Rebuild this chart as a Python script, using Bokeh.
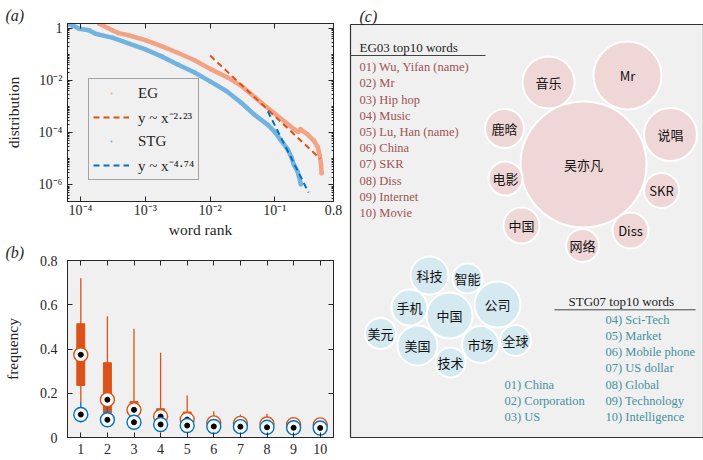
from bokeh.plotting import figure
from bokeh.layouts import row, column
from bokeh.models import (FixedTicker, LogAxis, LinearAxis, Legend, LegendItem, Range1d)
from bokeh.core.properties import value
from bokeh.embed import file_html
from bokeh.resources import INLINE

# ---------------- panel (a): rank distributions ----------------
eg_rank = [1.95e-4, 3.09e-4, 3.89e-4, 5.5e-4, 1.0e-3, 1.78e-3, 3.16e-3, 5.75e-3,
           1.0e-2, 1.86e-2, 3.02e-2, 6.17e-2, 9.77e-2, 0.148, 0.200, 0.229, 0.245,
           0.316, 0.398, 0.457, 0.490, 0.513, 0.525]
eg_dist = [1.51, 0.85, 0.66, 0.55, 0.355, 0.209, 0.117, 0.060, 0.0282, 0.0132,
           6.3e-3, 1.41e-3, 5.6e-4, 2.4e-4, 1.32e-4, 1.07e-4, 1.38e-4, 8.7e-5,
           5.0e-5, 2.8e-5, 1.38e-5, 6.3e-6, 2.8e-6]
stg_rank = [6.3e-5, 7.6e-5, 9.5e-5, 1.35e-4, 1.7e-4, 3.16e-4, 5.5e-4, 1.0e-3,
            1.78e-3, 3.16e-3, 5.75e-3, 1.0e-2, 1.78e-2, 3.02e-2, 4.79e-2, 7.76e-2,
            9.77e-2, 0.123, 0.158, 0.182, 0.195, 0.224, 0.251]
stg_dist = [1.51, 1.29, 0.98, 0.85, 0.63, 0.437, 0.269, 0.158, 0.085, 0.0417,
            0.0204, 9.3e-3, 4.0e-3, 1.41e-3, 5.0e-4, 2.0e-4, 1.12e-4, 5.2e-5,
            2.24e-5, 1.07e-5, 6.0e-6, 3.2e-6, 1.05e-6]
eg_fit_rank = [0.01, 0.50]
eg_fit_dist = [0.091, 1.0e-5]
stg_fit_rank = [0.0776, 0.33]
stg_fit_dist = [6.6e-4, 5.1e-7]

a_xticks = [1e-4, 1e-3, 1e-2, 1e-1, 0.8]
a_xlabels = ["10\u207b\u2074", "10\u207b\u00b3", "10\u207b\u00b2", "10\u207b\u00b9", "0.8"]
a_yticks = [1.0, 1e-2, 1e-4, 1e-6]
a_ylabels = ["1", "10\u207b\u00b2", "10\u207b\u2074", "10\u207b\u2076"]

# ---------------- panel (b): top-10 frequency box plots ----------------
ranks = [1, 2, 3, 4, 5, 6, 7, 8, 9, 10]
eg_lo = [0.16, 0.09, 0.07, 0.06, 0.05, 0.045, 0.04, 0.04, 0.04, 0.04]
eg_q1 = [0.235, 0.112, 0.10, 0.085, 0.06, 0.055, 0.05, 0.05, 0.048, 0.047]
eg_med = [0.374, 0.171, 0.125, 0.095, 0.081, 0.066, 0.064, 0.061, 0.058, 0.057]
eg_q3 = [0.514, 0.338, 0.163, 0.130, 0.115, 0.085, 0.08, 0.078, 0.072, 0.07]
eg_hi = [0.72, 0.548, 0.492, 0.383, 0.19, 0.119, 0.104, 0.107, 0.08, 0.075]
stg_lo = [0.068, 0.06, 0.05, 0.045, 0.04, 0.038, 0.036, 0.034, 0.033, 0.032]
stg_q1 = [0.095, 0.072, 0.063, 0.054, 0.05, 0.046, 0.045, 0.042, 0.04, 0.04]
stg_med = [0.104, 0.080, 0.069, 0.059, 0.054, 0.050, 0.049, 0.046, 0.044, 0.043]
stg_q3 = [0.115, 0.088, 0.075, 0.065, 0.06, 0.055, 0.053, 0.05, 0.048, 0.047]
stg_hi = [0.16, 0.15, 0.09, 0.08, 0.07, 0.065, 0.06, 0.058, 0.055, 0.053]
b_yticks = [0, 0.2, 0.4, 0.6, 0.8]
b_ylabels = ["0", "0.2", "0.4", "0.6", "0.8"]

# ---------------- panel (c): top-10 word bubbles ----------------
eg_title = "EG03 top10 words"
eg_words_en = ["Wu, Yifan (name)", "Mr", "Hip hop", "Music", "Lu, Han (name)",
               "China", "SKR", "Diss", "Internet", "Movie"]
eg_words_zh = ["吴亦凡", "Mr", "说唱", "音乐", "鹿晗", "中国", "SKR", "Diss", "网络", "电影"]
stg_title = "STG07 top10 words"
stg_words_en = ["China", "Corporation", "US", "Sci-Tech", "Market", "Mobile phone",
                "US dollar", "Global", "Technology", "Intelligence"]
stg_words_zh = ["中国", "公司", "美国", "科技", "市场", "手机", "美元", "全球", "技术", "智能"]
# bubble layout (panel-c coordinates) and bubble radii
eg_bx = [581, 625, 668, 546, 502, 519, 659, 628, 580, 503]
eg_by = [164, 75, 134, 82, 128, 225, 190, 230, 245, 178]
eg_br = [63, 34, 26.5, 26, 19.5, 18, 17.5, 18, 16.5, 17]
stg_bx = [447, 495, 415, 427, 478, 407, 378, 513, 448, 465]
stg_by = [315, 304, 345, 275, 344, 307, 333, 340, 362, 278]
stg_br = [23, 23, 20, 19, 18.5, 18, 15.5, 15.5, 15, 15]

DARK = "#262626"
BG = "#f0f0f0"
SERIF = "Liberation Serif"
ORANGE = "#D95319"
BLUE = "#0072BD"
EG_LIGHT = "#F2A385"
STG_LIGHT = "#72B2DF"


def style_axis(ax, ticks, labels=True):
    ax.axis_line_color = DARK
    ax.major_tick_in = 5
    ax.major_tick_out = 0
    ax.minor_tick_in = 2
    ax.minor_tick_out = 0
    ax.major_tick_line_color = DARK
    ax.minor_tick_line_color = DARK
    ax.major_label_text_font = SERIF
    ax.major_label_text_color = DARK
    ax.major_label_text_font_size = "14px"
    ax.axis_label_text_font = SERIF
    ax.axis_label_text_font_style = "normal"
    ax.axis_label_text_color = DARK
    ax.axis_label_text_font_size = "15.5px"
    if not labels:
        ax.major_label_overrides = {t: "" for t in ticks}
        ax.major_label_standoff = 0


def panel_title(p, text, offset):
    p.title.text = text
    p.title.align = "left"
    p.title.offset = offset
    p.title.standoff = 0
    p.title.text_font = SERIF
    p.title.text_font_style = "italic"
    p.title.text_font_size = "16px"
    p.title.text_color = DARK


# ---------- figure (a)
pa = figure(x_axis_type="log", y_axis_type="log",
            x_range=Range1d(6.3e-5, 0.8), y_range=Range1d(2.3e-7, 1.55),
            frame_width=266, frame_height=178,
            min_border_left=65, min_border_right=14, min_border_top=23, min_border_bottom=38,
            output_backend="svg", toolbar_location=None,
            background_fill_color=BG, border_fill_color="white")
pa.grid.visible = False
pa.outline_line_color = DARK
panel_title(pa, "(a)", -62)

yminor = [k * 10.0 ** e for e in range(-7, 1) for k in range(1, 10)]
pa.xaxis.ticker = FixedTicker(ticks=a_xticks, minor_ticks=[])
pa.yaxis.ticker = FixedTicker(ticks=a_yticks, minor_ticks=yminor)
pa.xaxis.axis_label = "word rank"
pa.yaxis.axis_label = "distribution"
for ax in pa.xaxis:
    style_axis(ax, a_xticks)
for ax in pa.yaxis:
    style_axis(ax, a_yticks)
pa.xaxis.major_label_overrides = dict(zip(a_xticks, a_xlabels))
pa.yaxis.major_label_overrides = dict(zip(a_yticks, a_ylabels))
pa.xaxis.major_label_standoff = 1
pa.xaxis.axis_label_standoff = 0
pa.yaxis.major_label_standoff = 5
pa.yaxis.axis_label_standoff = 14
ta = LogAxis(ticker=FixedTicker(ticks=a_xticks, minor_ticks=[]))
ra = LogAxis(ticker=FixedTicker(ticks=a_yticks, minor_ticks=yminor))
style_axis(ta, a_xticks, False)
style_axis(ra, a_yticks, False)
pa.add_layout(ta, "above")
pa.add_layout(ra, "right")

pa.line(eg_rank, eg_dist, line_color=EG_LIGHT, line_width=4.5, line_cap="round")
eg_dots = pa.scatter(eg_rank, eg_dist, marker="dot", size=18, color=EG_LIGHT)
pa.line(stg_rank, stg_dist, line_color=STG_LIGHT, line_width=4.5, line_cap="round")
stg_dots = pa.scatter(stg_rank, stg_dist, marker="dot", size=18, color=STG_LIGHT)
eg_fit = pa.line(eg_fit_rank, eg_fit_dist, line_color=ORANGE, line_width=2, line_dash="6 4")
stg_fit = pa.line(stg_fit_rank, stg_fit_dist, line_color=BLUE, line_width=2, line_dash="6 4")

legend = Legend(items=[
    LegendItem(label="EG", renderers=[eg_dots]),
    LegendItem(label="y ~ x\u207b\u00b2\u00b7\u00b2\u00b3", renderers=[eg_fit]),
    LegendItem(label="STG", renderers=[stg_dots]),
    LegendItem(label="y ~ x\u207b\u2074\u00b7\u2077\u2074", renderers=[stg_fit]),
], location=(21, 21))
legend.background_fill_color = BG
legend.background_fill_alpha = 1
legend.border_line_color = "#555555"
legend.border_line_width = 1
legend.label_text_font = SERIF
legend.label_text_font_size = "15px"
legend.label_text_color = DARK
legend.glyph_width = 36
legend.glyph_height = 20
legend.label_height = 20
legend.label_standoff = 9
legend.spacing = 4
legend.padding = 4
legend.margin = 0
pa.add_layout(legend)

# ---------- figure (b)
pb = figure(x_range=Range1d(0.5, 10.5), y_range=Range1d(0, 0.8),
            frame_width=266, frame_height=177,
            min_border_left=65, min_border_right=14, min_border_top=20, min_border_bottom=23,
            output_backend="svg", toolbar_location=None,
            background_fill_color=BG, border_fill_color="white")
pb.grid.visible = False
pb.outline_line_color = DARK
panel_title(pb, "(b)", -62)
pb.xaxis.ticker = FixedTicker(ticks=ranks, minor_ticks=[])
pb.yaxis.ticker = FixedTicker(ticks=b_yticks, minor_ticks=[])
pb.yaxis.axis_label = "frequency"
for ax in pb.xaxis:
    style_axis(ax, ranks)
for ax in pb.yaxis:
    style_axis(ax, b_yticks)
pb.yaxis.major_label_overrides = dict(zip(b_yticks, b_ylabels))
pb.xaxis.major_label_standoff = 6
pb.yaxis.major_label_standoff = 10
pb.yaxis.axis_label_standoff = 16
tb = LinearAxis(ticker=FixedTicker(ticks=ranks, minor_ticks=[]))
rb = LinearAxis(ticker=FixedTicker(ticks=b_yticks, minor_ticks=[]))
style_axis(tb, ranks, False)
style_axis(rb, b_yticks, False)
pb.add_layout(tb, "above")
pb.add_layout(rb, "right")

pb.segment(x0=ranks, y0=eg_lo, x1=ranks, y1=eg_hi, line_color=ORANGE, line_width=1.3)
pb.vbar(x=ranks, bottom=eg_q1, top=eg_q3, width=0.3, fill_color=ORANGE, line_color=ORANGE)
pb.segment(x0=ranks, y0=stg_lo, x1=ranks, y1=stg_hi, line_color=BLUE, line_width=1.3)
pb.vbar(x=ranks, bottom=stg_q1, top=stg_q3, width=0.3, fill_color=BLUE, line_color=BLUE)
pb.scatter(ranks, eg_med, size=14, fill_color="#f8f8f8", line_color=ORANGE, line_width=1.4)
pb.scatter(ranks, eg_med, size=5, color="black")
pb.scatter(ranks, stg_med, size=14, fill_color="#f8f8f8", line_color=BLUE, line_width=1.4)
pb.scatter(ranks, stg_med, size=5, color="black")

# ---------- figure (c)
pc = figure(x_range=Range1d(348, 701), y_range=Range1d(437, 24),
            frame_width=353, frame_height=413,
            min_border_left=3, min_border_right=2, min_border_top=24, min_border_bottom=23,
            output_backend="svg", toolbar_location=None,
            background_fill_color=BG, border_fill_color="white")
pc.axis.visible = False
pc.grid.visible = False
pc.outline_line_color = "#333333"
pc.outline_line_width = 1.2
panel_title(pc, "(c)", 9)

pc.circle(eg_bx, eg_by, radius=eg_br, fill_color="#F0D7D7", line_color="white", line_width=2)
pc.text(eg_bx, eg_by, text=eg_words_zh, text_align="center", text_baseline="middle",
        text_font=value("Noto Sans CJK SC"), text_font_size="13px", text_color="#111111")
pc.circle(stg_bx, stg_by, radius=stg_br, fill_color="#D5E9F1", line_color="white", line_width=2)
pc.text(stg_bx, stg_by, text=stg_words_zh, text_align="center", text_baseline="middle",
        text_font=value("Noto Sans CJK SC"), text_font_size="13px", text_color="#111111")

# EG word list
pc.text([357], [47], text=[eg_title], text_baseline="middle", text_font=value(SERIF),
        text_font_size="13px", text_color="#222222")
pc.line([348, 483], [55, 55], line_color="#444444", line_width=1)
eg_labels = ["%02d) %s" % (i + 1, w) for i, w in enumerate(eg_words_en)]
pc.text([357] * 10, [66.7 + 16.2 * i for i in range(10)], text=eg_labels,
        text_baseline="middle", text_font=value(SERIF), text_font_size="12.5px",
        text_color="#A05250")

# STG word list
pc.text([566], [301], text=[stg_title], text_baseline="middle", text_font=value(SERIF),
        text_font_size="13px", text_color="#222222")
pc.line([552, 693], [309.3, 309.3], line_color="#444444", line_width=1)
stg_labels = ["%02d) %s" % (i + 1, w) for i, w in enumerate(stg_words_en)]
pc.text([502] * 3, [384.3 + 16.2 * i for i in range(3)], text=stg_labels[:3],
        text_baseline="middle", text_font=value(SERIF), text_font_size="12.5px",
        text_color="#44909F")
pc.text([603] * 7, [319 + 16.3 * i for i in range(7)], text=stg_labels[3:],
        text_baseline="middle", text_font=value(SERIF), text_font_size="12.5px",
        text_color="#44909F")

layout = row(column(pa, pb), pc)
open("out.html", "w").write(file_html(layout, INLINE))
